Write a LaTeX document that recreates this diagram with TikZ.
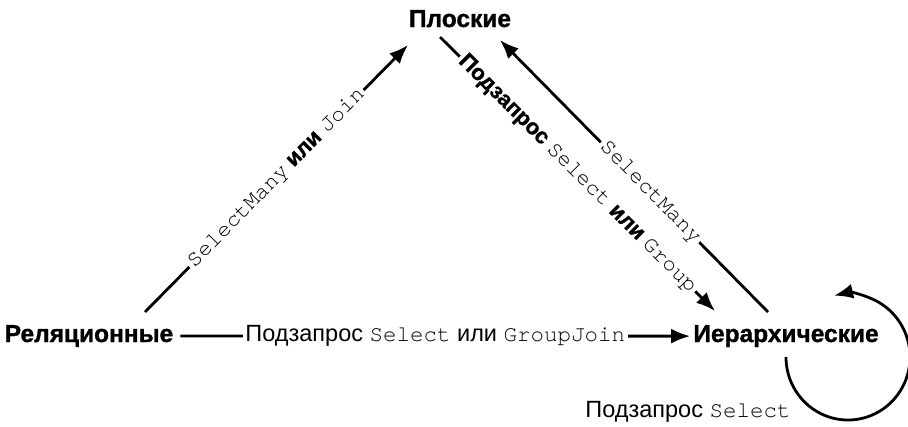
\documentclass[tikz,border=0pt]{standalone}
\usepackage{fontspec}
\setmainfont{Liberation Sans}
\newfontfamily\courfont{TeX Gyre Cursor}
\newfontfamily\heavyfont[FakeBold=1.2]{Liberation Sans Bold}
\usetikzlibrary{arrows.meta,calc}
\newcommand{\mono}[1]{{\courfont\fontsize{22.5}{26}\selectfont #1}}
\newcommand{\cyb}[1]{{\heavyfont\fontsize{22}{26}\selectfont #1}}
\tikzset{
  box/.style={font=\heavyfont\fontsize{24.5}{29}\selectfont, inner sep=3pt},
  conn/.style={line width=2.8pt, -{Latex[length=19pt,width=15pt]}},
  lbl/.style={fill=white, inner sep=2.5pt, font=\fontsize{23.5}{27}\selectfont},
}
\begin{document}
\begin{tikzpicture}[x=1pt,y=-1pt]
\useasboundingbox (0,0) rectangle (908,426);
\node[box, anchor=base] (pl) at (460,27) {Плоские};
\node[box, anchor=base] (rel) at (89,342) {Реляционные};
\node[box, anchor=base] (ier) at (786,342) {Иерархические};
\coordinate (a1) at (145,312);
\coordinate (a2) at (408,45);
\coordinate (b1) at (440,37);
\coordinate (b2) at (715,311);
\coordinate (c1) at (768,312);
\coordinate (c2) at (500,40);
\coordinate (d0) at (786,357);
\draw[conn] (a1) -- node[lbl, sloped] {\mono{SelectMany} \cyb{или} \mono{Join}} (a2);
\draw[conn] (b1) -- node[lbl, sloped] {\cyb{Подзапрос} \mono{Select} \cyb{или} \mono{Group}} (b2);
\draw[conn] (c1) -- node[lbl, sloped, pos=0.44] {\mono{SelectMany}} (c2);
\draw[conn] ([xshift=4pt]rel.east) -- node[lbl] {Подзапрос \mono{Select} или \mono{GroupJoin}} (ier.west);
\draw[conn] (d0) arc[start angle=180, end angle=-103, x radius=62, y radius=63];
\node[lbl, fill=none, anchor=base] (loopl) at (688,417) {Подзапрос \mono{Select}};
\end{tikzpicture}
\end{document}
